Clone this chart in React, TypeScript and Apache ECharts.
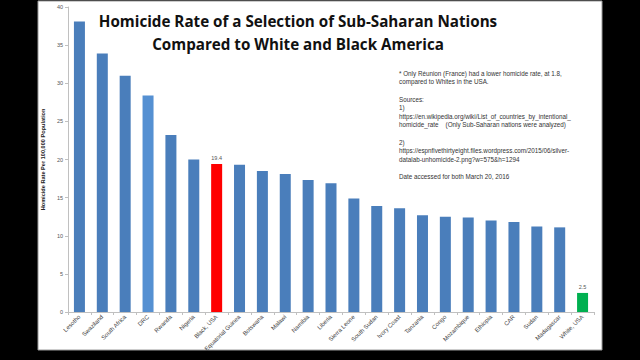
import React, { useEffect, useRef } from "react";
import * as echarts from "echarts";

const categories = [
  "Lesotho", "Swaziland", "South Africa", "DRC", "Rwanda", "Nigeria", "Black, USA",
  "Equatorial Guinea", "Botswana", "Malawi", "Namibia", "Liberia", "Sierra Leone",
  "South Sudan", "Ivory Coast", "Tanzania", "Congo", "Mozambique", "Ethiopia",
  "CAR", "Sudan", "Madagascar", "White, USA",
];
const rates = [
  38.1, 33.9, 31.0, 28.4, 23.2, 20.0, 19.4,
  19.3, 18.5, 18.1, 17.3, 16.9, 14.9,
  13.9, 13.6, 12.7, 12.5, 12.4, 12.0,
  11.8, 11.2, 11.1, 2.5,
];
const labelled = ["Black, USA", "White, USA"];
const yTicks = { min: 0, max: 40, interval: 5 };

const titleLines = [
  "Homicide Rate of a Selection of Sub-Saharan Nations",
  "Compared to White and Black America",
];
const noteLines = [
  "* Only Réunion (France) had a lower homicide rate, at 1.8,",
  "compared to Whites in the USA.",
  "",
  "Sources:",
  "1)",
  "https://en.wikipedia.org/wiki/List_of_countries_by_intentional_",
  "homicide_rate    (Only Sub-Saharan nations were analyzed)",
  "",
  "2)",
  "https://espnfivethirtyeight.files.wordpress.com/2015/06/silver-",
  "datalab-unhomicide-2.png?w=575&h=1294",
  "",
  "Date accessed for both March 20, 2016",
];

const BLUE = "#4a7ebb";
const colorFor = (name: string) =>
  name === "Black, USA" ? "#ff0000" : name === "White, USA" ? "#00b050" : name === "DRC" ? "#5590d2" : BLUE;

export default function App() {
  const ref = useRef<HTMLDivElement>(null);
  useEffect(() => {
    if (!ref.current) return;
    const chart = echarts.init(ref.current, undefined, { renderer: "svg" });
    chart.setOption({
      animation: false,
      backgroundColor: "#000000",
      graphic: [
        {
          type: "rect",
          z: -10,
          shape: { x: 38, y: 1, width: 564, height: 349 },
          style: { fill: "#ffffff", stroke: "#9a9a9a", lineWidth: 1 },
        },
        {
          type: "text",
          x: 298,
          y: 9,
          style: {
            text: titleLines.join("\n"),
            fontFamily: "Open Sans",
            fontWeight: "bold",
            fontSize: 15.2,
            lineHeight: 23.5,
            fill: "#111111",
            align: "center",
          },
        },
        {
          type: "text",
          x: 399,
          y: 69,
          style: {
            text: noteLines.join("\n"),
            fontFamily: "Liberation Sans",
            fontSize: 6.3,
            lineHeight: 8.6,
            fill: "#333333",
            align: "left",
          },
        },
      ],
      grid: { left: 68, right: 46, top: 7, bottom: 48, containLabel: false },
      xAxis: {
        type: "category",
        data: categories,
        axisLine: { lineStyle: { color: "#c0c0c0" } },
        axisTick: { show: true, alignWithLabel: false, length: 3, lineStyle: { color: "#c0c0c0" } },
        axisLabel: {
          rotate: 45,
          fontSize: 6,
          color: "#444444",
          fontFamily: "Liberation Sans",
          margin: 4,
          interval: 0,
        },
      },
      yAxis: {
        type: "value",
        min: yTicks.min,
        max: yTicks.max,
        interval: yTicks.interval,
        name: "Homicide Rate Per 100,000 Population",
        nameLocation: "middle",
        nameGap: 10,
        nameTextStyle: { fontSize: 5.6, fontWeight: "bold", color: "#222222", fontFamily: "Liberation Sans" },
        axisLine: { show: true, lineStyle: { color: "#c0c0c0" } },
        axisTick: { show: true, length: 3, lineStyle: { color: "#c0c0c0" } },
        splitLine: { show: false },
        axisLabel: { fontSize: 5.5, color: "#555555", fontFamily: "Liberation Sans", margin: 5 },
      },
      series: [
        {
          type: "bar",
          barWidth: 11,
          data: categories.map((c, i) => ({
            value: rates[i],
            itemStyle: { color: colorFor(c) },
            label: {
              show: labelled.includes(c),
              position: "top",
              fontSize: 5.5,
              color: "#555555",
              distance: 3,
              fontFamily: "Liberation Sans",
            },
          })),
        },
      ],
    });
    return () => chart.dispose();
  }, []);
  return <div ref={ref} style={{ position: "fixed", left: 0, top: 0, width: 640, height: 360 }} />;
}
